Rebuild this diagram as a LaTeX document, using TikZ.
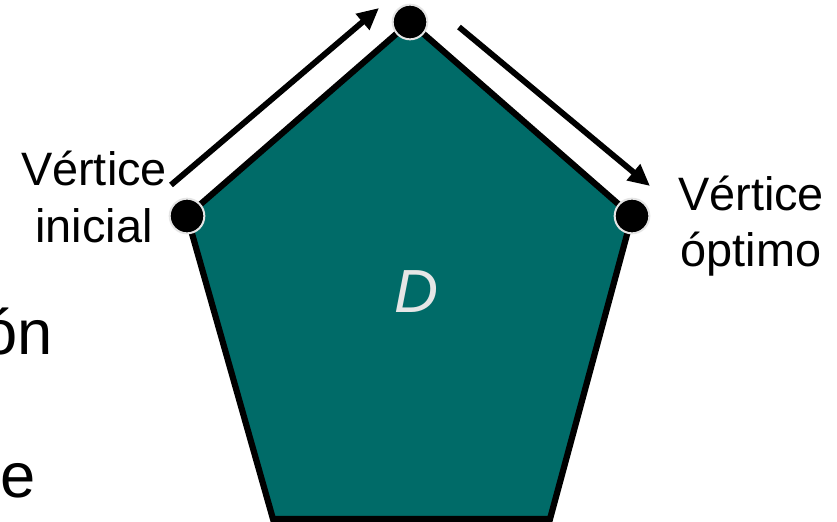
\documentclass[tikz,border=0pt]{standalone}
\usepackage{fontspec}
\setmainfont{Liberation Sans}
\usepackage{tikz}
\usetikzlibrary{arrows.meta, positioning}

\definecolor{verdepol}{HTML}{006B68}
\definecolor{grisD}{HTML}{E6E6E6}

\begin{document}
\begin{tikzpicture}[
  x=0.3mm, y=-0.3mm,
  poly/.style={draw=black, fill=verdepol, line width=5.3pt, line join=miter},
  vdot/.style={circle, fill=black, draw=gray!20, line width=0.6mm,
    inner sep=0pt, minimum size=10.4mm},
  arrow/.style={-{Triangle[length=6.5mm, width=6mm]}, line width=5pt},
  etiq/.style={font=\fontsize{40}{48}\selectfont, align=center},
  cortado/.style={font=\fontsize{54}{60}\selectfont, inner sep=0pt}
]
\useasboundingbox (0,0) rectangle (837,521);

% Vertices del poliedro
\coordinate (P1) at (410,22);
\coordinate (P2) at (632,216);
\coordinate (P3) at (550,519);
\coordinate (P4) at (273,519);
\coordinate (P5) at (187,216);

% Region factible
\draw[poly] (P1) -- (P2) -- (P3) -- (P4) -- (P5) -- cycle;
\node[text=grisD, font=\fontsize{52}{60}\selectfont\itshape] (D) at (416,292) {D};

% Puntos extremos
\node[vdot] (vtop) at (P1) {};
\node[vdot] (vini) at (P5) {};
\node[vdot] (vopt) at (P2) {};

% Flechas del recorrido
\coordinate (a1) at (171,185);
\coordinate (a2) at (379,8);
\coordinate (b1) at (459,27);
\coordinate (b2) at (650,186);
\draw[arrow] (a1) -- (a2);
\draw[arrow] (b1) -- (b2);

% Etiquetas
\node[etiq] (lini) at (94,197) {Vértice\\inicial};
\node[etiq] (lopt) at (751,226) {Vértice\\óptimo};

% Texto cortado a la izquierda
\node[cortado, anchor=base east] (t1) at (53,354) {ón};
\node[cortado, anchor=base east] (t2) at (36,497) {e};

\end{tikzpicture}
\end{document}
